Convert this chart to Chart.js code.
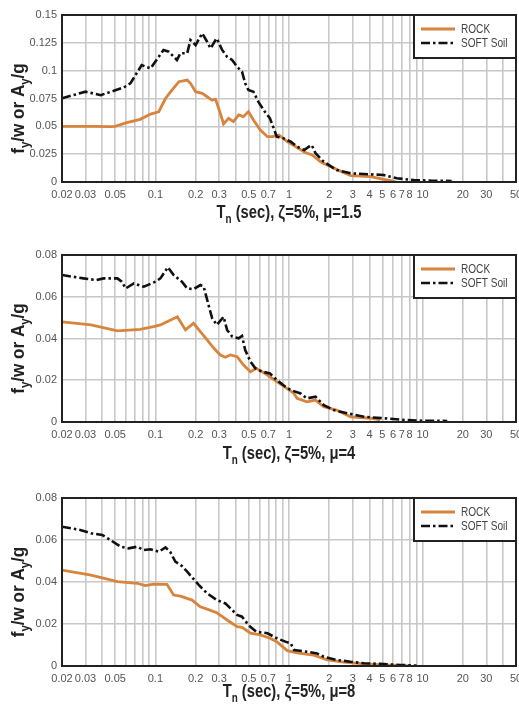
<!DOCTYPE html>
<html>
<head>
<meta charset="utf-8">
<script src="https://cdn.jsdelivr.net/npm/chart.js@4.4.1/dist/chart.umd.min.js"></script>
<style>
  body { margin: 0; background: #fff; }
  .box { position: absolute; left: 0; width: 519px; }
</style>
</head>
<body>
<div class="box" style="top:0;height:225px"><canvas id="c1"></canvas></div>
<div class="box" style="top:235px;height:230px"><canvas id="c2"></canvas></div>
<div class="box" style="top:470px;height:239px"><canvas id="c3"></canvas></div>
<script>
// period grid (log axis) and the labelled subset
const gridT = [0.02,0.03,0.04,0.05,0.06,0.07,0.08,0.09,0.1,0.2,0.3,0.4,0.5,0.6,0.7,0.8,0.9,1,2,3,4,5,6,7,8,9,10,20,30,40,50];
const labelT = [0.02,0.03,0.05,0.1,0.2,0.3,0.5,0.7,1,2,3,4,5,6,7,8,10,20,30,50];
const yTicks1 = [0,0.025,0.05,0.075,0.1,0.125,0.15];
const yTicks2 = [0,0.02,0.04,0.06,0.08];

// mu = 1.5
const rock1T = [0.02,0.034,0.046,0.05,0.061,0.077,0.092,0.106,0.119,0.133,0.15,0.173,0.183,0.2,0.224,0.244,0.265,0.282,0.306,0.324,0.353,0.384,0.42,0.455,0.497,0.542,0.61,0.69,0.76,0.84,0.97,1.15,1.3,1.5,1.73,2.0,2.5,2.9,4.1,5.0,5.8,6.3];
const rock1V = [0.050,0.050,0.0497,0.050,0.0533,0.0563,0.061,0.0631,0.075,0.0826,0.0901,0.0916,0.0886,0.0811,0.0796,0.0766,0.0736,0.0742,0.0617,0.0521,0.0572,0.0542,0.0602,0.0587,0.0631,0.0557,0.0467,0.0407,0.0407,0.0422,0.0362,0.031,0.027,0.024,0.018,0.0145,0.009,0.0057,0.0048,0.0025,0.0012,0.0002];
const soft1T = [0.02,0.03,0.039,0.058,0.065,0.079,0.092,0.115,0.126,0.145,0.154,0.173,0.183,0.2,0.224,0.244,0.259,0.282,0.288,0.316,0.344,0.375,0.409,0.445,0.47,0.497,0.542,0.59,0.66,0.72,0.76,0.81,0.91,1.03,1.15,1.3,1.41,1.48,1.58,1.82,2.27,2.89,3.64,5.1,6.4,8.6,11.5,16.5];
const soft1V = [0.0752,0.0811,0.078,0.085,0.0886,0.105,0.102,0.1186,0.117,0.1096,0.1156,0.1156,0.1275,0.123,0.1335,0.126,0.120,0.1275,0.129,0.1186,0.1125,0.1096,0.1036,0.099,0.0886,0.0826,0.0811,0.072,0.063,0.0572,0.0497,0.0407,0.0392,0.0362,0.0317,0.0287,0.0317,0.0332,0.0258,0.0182,0.0108,0.0078,0.0072,0.0063,0.0033,0.0018,0.0012,0.0009];

// mu = 4
const rock2T = [0.02,0.033,0.052,0.077,0.097,0.109,0.146,0.168,0.193,0.217,0.244,0.274,0.306,0.334,0.364,0.409,0.457,0.515,0.57,0.69,0.81,0.97,1.09,1.15,1.36,1.58,1.82,2.27,2.89,4.1,4.8];
const rock2V = [0.048,0.0465,0.0437,0.0444,0.0457,0.0465,0.0504,0.0441,0.0473,0.0433,0.0393,0.0353,0.0321,0.031,0.0321,0.0313,0.0273,0.0241,0.0257,0.0225,0.0193,0.016,0.0137,0.0113,0.0097,0.0105,0.0073,0.0057,0.0025,0.0018,0.001];
const soft2T = [0.02,0.029,0.036,0.041,0.052,0.056,0.06,0.069,0.082,0.1,0.109,0.124,0.137,0.158,0.173,0.193,0.217,0.23,0.25,0.266,0.288,0.324,0.344,0.376,0.42,0.445,0.47,0.515,0.56,0.63,0.72,0.81,0.94,1.03,1.22,1.36,1.58,1.82,2.16,2.73,3.64,5.1,7.2,10.2,15.3];
const soft2V = [0.0704,0.0688,0.068,0.0688,0.0688,0.0672,0.064,0.0664,0.0648,0.0672,0.0688,0.0741,0.0704,0.0672,0.064,0.0636,0.0656,0.0648,0.056,0.0497,0.0465,0.0504,0.0441,0.0409,0.0401,0.0412,0.0345,0.0289,0.0257,0.0241,0.0233,0.0201,0.0169,0.0153,0.0137,0.0113,0.0121,0.0081,0.0057,0.0042,0.0025,0.0018,0.001,0.0006,0.0005];

// mu = 8
const rock3T = [0.02,0.033,0.052,0.073,0.084,0.097,0.122,0.137,0.154,0.188,0.217,0.244,0.288,0.344,0.409,0.445,0.515,0.61,0.72,0.81,0.97,1.15,1.53,1.94,2.56,3.64,5.1,8.2];
const rock3V = [0.0457,0.0433,0.0402,0.0394,0.0383,0.039,0.0389,0.0338,0.0333,0.0314,0.0282,0.0271,0.0254,0.0219,0.0187,0.0184,0.0156,0.0148,0.0132,0.0116,0.0073,0.0063,0.0052,0.0029,0.0018,0.001,0.0005,0.0001];
const soft3T = [0.02,0.0274,0.033,0.04,0.046,0.055,0.063,0.073,0.082,0.092,0.106,0.119,0.129,0.141,0.158,0.173,0.211,0.244,0.288,0.334,0.409,0.445,0.497,0.57,0.69,0.81,0.94,1.03,1.09,1.36,1.62,1.82,2.27,2.89,3.64,4.8,6.8,9.0];
const soft3V = [0.0663,0.0648,0.0632,0.0624,0.06,0.0568,0.056,0.0568,0.0552,0.0556,0.0544,0.0565,0.0544,0.0497,0.0476,0.0449,0.0386,0.0346,0.0314,0.0298,0.0243,0.0235,0.0195,0.0163,0.0156,0.0132,0.0116,0.0108,0.0076,0.0068,0.006,0.0044,0.0029,0.002,0.0013,0.001,0.0005,0.0002];

const fam = "'Liberation Sans', Arial, sans-serif";

function pts(xs, ys) {
  return xs.map((x, i) => ({x: x, y: ys[i]}));
}

// bold text with subscripts, squeezed horizontally by k, centred on x
function drawParts(ctx, parts, x, y, size, k) {
  const big = 'bold ' + size + 'px ' + fam;
  const small = 'bold ' + Math.round(size * 0.68) + 'px ' + fam;
  let w = 0;
  parts.forEach(p => { ctx.font = p[1] ? small : big; w += ctx.measureText(p[0]).width; });
  ctx.save();
  ctx.translate(x, y);
  ctx.scale(k, 1);
  let cx = -w / 2;
  ctx.textAlign = 'left';
  ctx.textBaseline = 'alphabetic';
  parts.forEach(p => {
    ctx.font = p[1] ? small : big;
    ctx.fillText(p[0], cx, p[1] ? size * 0.28 : 0);
    cx += ctx.measureText(p[0]).width;
  });
  ctx.restore();
}

const decor = {
  id: 'decor',
  afterDraw(chart, args, o) {
    const ctx = chart.ctx, a = chart.chartArea;
    ctx.save();
    // plot frame
    ctx.strokeStyle = '#222';
    ctx.lineWidth = 2;
    ctx.strokeRect(a.left, a.top, a.right - a.left, a.bottom - a.top);
    // legend box in the top right corner
    const lw = 102, lh = 43;
    const lx = a.right - lw, ly = a.top;
    ctx.fillStyle = '#fff';
    ctx.fillRect(lx, ly, lw, lh);
    ctx.strokeRect(lx, ly, lw, lh);
    chart.data.datasets.forEach((ds, i) => {
      const yy = ly + 14 + i * 14;
      ctx.beginPath();
      ctx.strokeStyle = ds.borderColor;
      ctx.lineWidth = ds.borderWidth;
      ctx.setLineDash(ds.borderDash || []);
      ctx.moveTo(lx + 7, yy);
      ctx.lineTo(lx + 41, yy);
      ctx.stroke();
      ctx.setLineDash([]);
      ctx.save();
      ctx.translate(lx + 47, yy + 1);
      ctx.scale(0.84, 1);
      ctx.fillStyle = '#444';
      ctx.font = '12px ' + fam;
      ctx.textAlign = 'left';
      ctx.textBaseline = 'middle';
      ctx.fillText(ds.label, 0, 0);
      ctx.restore();
    });
    // axis titles
    ctx.fillStyle = '#222';
    drawParts(ctx, [['T', 0], ['n', 1], [' (sec), \u03b6=5%, \u03bc=' + o.mu, 0]], (a.left + a.right) / 2, a.bottom + o.xTitleY, 18, 0.82);
    ctx.translate(24, (a.top + a.bottom) / 2 + 10);
    ctx.rotate(-Math.PI / 2);
    drawParts(ctx, [['f', 0], ['y', 1], ['/w or A', 0], ['y', 1], ['/g', 0]], 0, 0, 18, 0.95);
    ctx.restore();
  }
};

function makeChart(id, rockT, rockV, softT, softV, yTicks, mu, padTop, plotH, xTitleY) {
  const canvas = document.getElementById(id);
  const H = canvas.parentNode.clientHeight;
  new Chart(canvas, {
    type: 'line',
    data: {
      datasets: [{
        label: 'ROCK',
        data: pts(rockT, rockV),
        borderColor: '#d8843c',
        borderWidth: 2.8,
        pointRadius: 0,
        tension: 0,
        order: 1
      }, {
        label: 'SOFT Soil',
        data: pts(softT, softV),
        borderColor: '#111',
        borderWidth: 2.6,
        borderDash: [9, 3, 2.5, 3],
        pointRadius: 0,
        tension: 0,
        order: 0
      }]
    },
    options: {
      responsive: true,
      maintainAspectRatio: false,
      animation: false,
      layout: { padding: { top: padTop, right: 3, left: 0, bottom: 0 } },
      plugins: {
        legend: { display: false },
        tooltip: { enabled: false },
        decor: { mu: mu, xTitleY: xTitleY }
      },
      scales: {
        x: {
          type: 'logarithmic',
          min: 0.02,
          max: 50,
          afterBuildTicks: (s) => { s.ticks = gridT.map(v => ({ value: v })); },
          afterFit: (s) => { s.height = H - padTop - plotH; s.paddingLeft = 0; s.paddingRight = 0; },
          grid: { color: '#c8c8c8', lineWidth: 1.6, drawTicks: false },
          border: { color: '#222', width: 2 },
          ticks: {
            autoSkip: false,
            maxRotation: 0,
            padding: 6,
            color: '#555',
            font: { family: fam, size: 11 },
            callback: (v) => labelT.some(t => Math.abs(t - v) < 1e-9) ? String(v) : ''
          }
        },
        y: {
          min: 0,
          max: yTicks[yTicks.length - 1],
          afterBuildTicks: (s) => { s.ticks = yTicks.map(v => ({ value: v })); },
          afterFit: (s) => { s.width = 62; s.paddingTop = 0; s.paddingBottom = 0; },
          grid: { color: '#c8c8c8', lineWidth: 1.6, drawTicks: false },
          border: { color: '#222', width: 2 },
          ticks: {
            padding: 5,
            color: '#555',
            font: { family: fam, size: 11 },
            callback: (v) => String(+v.toFixed(3))
          }
        }
      }
    },
    plugins: [decor]
  });
}

makeChart('c1', rock1T, rock1V, soft1T, soft1V, yTicks1, '1.5', 15, 167, 36);
makeChart('c2', rock2T, rock2V, soft2T, soft2V, yTicks2, '4', 20, 167, 37);
makeChart('c3', rock3T, rock3V, soft3T, soft3V, yTicks2, '8', 28, 168, 31);
</script>
</body>
</html>
